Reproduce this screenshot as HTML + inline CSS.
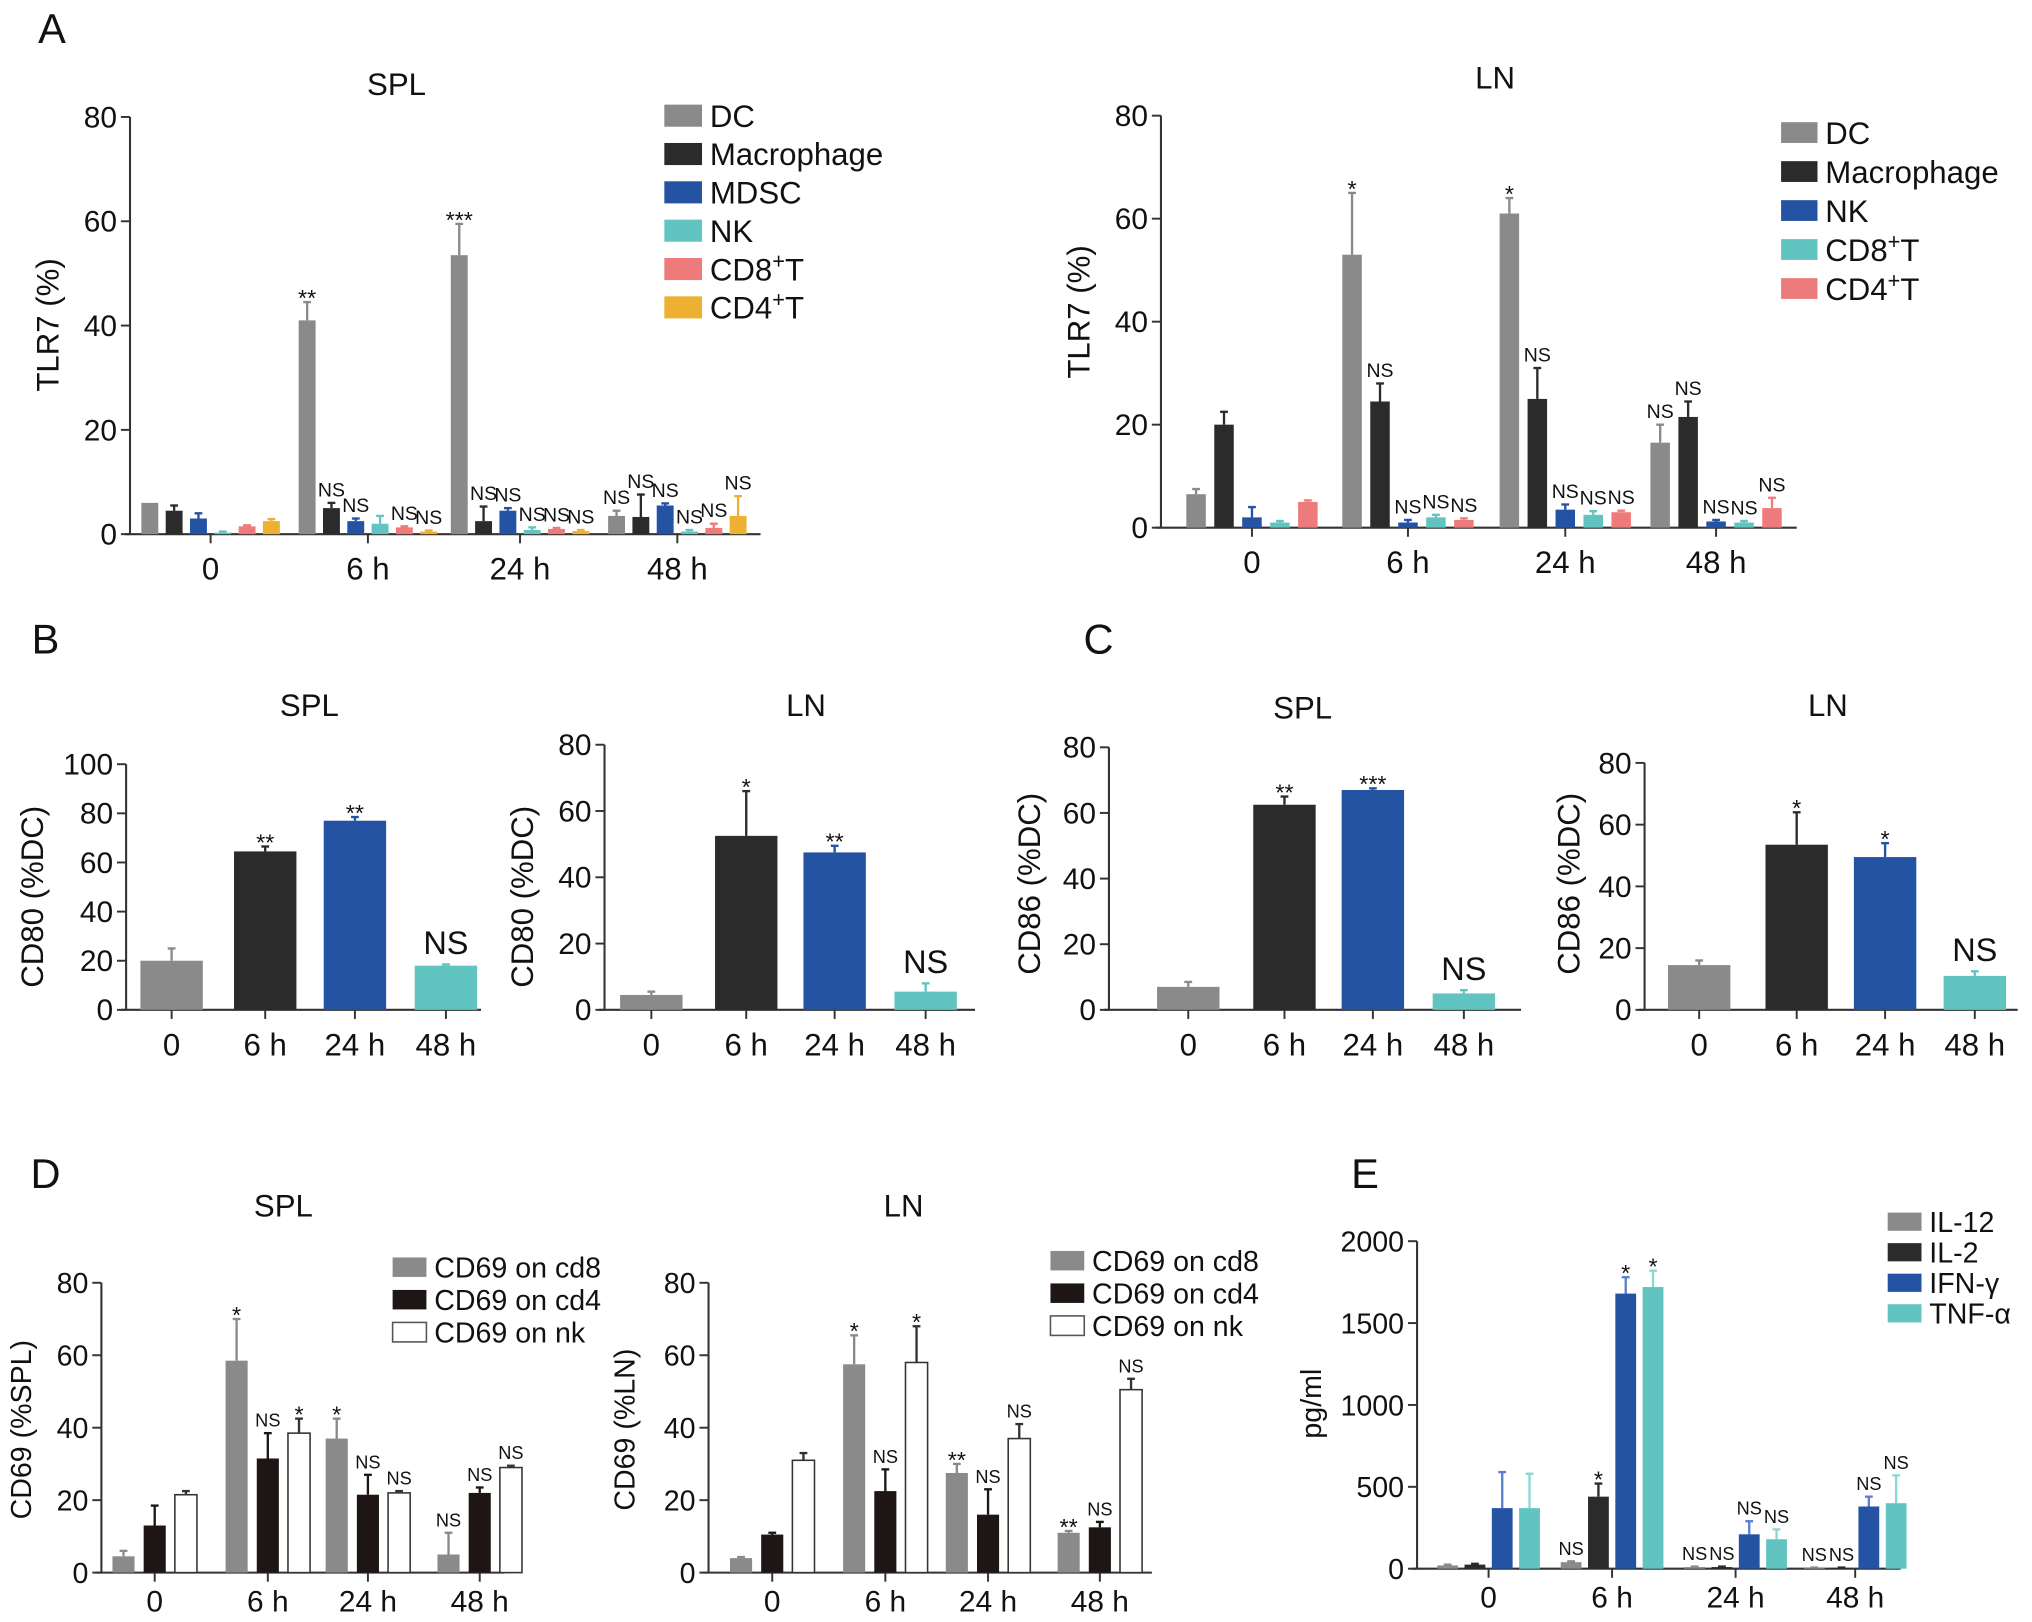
<!DOCTYPE html>
<html><head><meta charset="utf-8"><style>
html,body{margin:0;padding:0;background:#fff;}
svg{display:block;font-family:"Liberation Sans",sans-serif;}
</style></head><body>
<svg id="fig" width="2032" height="1622" viewBox="0 0 1563 1248" preserveAspectRatio="none"></svg>
<script>
// ---------- DATA ----------
const groupsT = ["0","6 h","24 h","48 h"];
// A SPL
const aSplSeries = ["DC","Macrophage","MDSC","NK","CD8+T","CD4+T"];
const aSplVals = [[6,4.5,3,0.3,1.5,2.5],[41,5,2.5,2,1.3,0.5],[53.5,2.5,4.5,0.8,1,0.6],[3.5,3.3,5.5,0.5,1.2,3.5]];
const aSplErr = [[0,1,1,0.2,0.2,0.4],[3.5,1,0.5,1.5,0.2,0.2],[6,2.8,0.5,0.5,0.2,0.2],[1,4.3,0.4,0.3,0.8,3.8]];
const aSplAnn = [["","","","","",""],["**","NS","NS","","NS","NS"],["***","NS","NS","NS","NS","NS"],["NS","NS","NS","NS","NS","NS"]];
const aSplTicks = [0,20,40,60,80];
// A LN
const aLnSeries = ["DC","Macrophage","NK","CD8+T","CD4+T"];
const aLnVals = [[6.5,20,2,1,5],[53,24.5,1,2,1.5],[61,25,3.5,2.5,3],[16.5,21.5,1.2,1,3.8]];
const aLnErr = [[1,2.5,2,0.3,0.3],[12,3.5,0.5,0.5,0.3],[3,6,1,0.7,0.3],[3.5,3,0.3,0.3,2]];
const aLnAnn = [["","","","",""],["*","NS","NS","NS","NS"],["*","NS","NS","NS","NS"],["NS","NS","NS","NS","NS"]];
const aLnTicks = [0,20,40,60,80];
// B / C
const bSplVals = [20,64.5,77,18], bSplErr=[5,2,1.5,0.5], bSplAnn=["","**","**","NS"], bSplTicks=[0,20,40,60,80,100];
const bLnVals = [4.5,52.5,47.5,5.5], bLnErr=[1,13.5,2,2.5], bLnAnn=["","*","**","NS"], bLnTicks=[0,20,40,60,80];
const cSplVals = [7,62.5,67,5], cSplErr=[1.5,2.5,0.5,1], cSplAnn=["","**","***","NS"], cSplTicks=[0,20,40,60,80];
const cLnVals = [14.5,53.5,49.5,11], cLnErr=[1.5,10.5,4.5,1.5], cLnAnn=["","*","*","NS"], cLnTicks=[0,20,40,60,80];
// D
const dSeries = ["CD69 on cd8","CD69 on cd4","CD69 on nk"];
const dSplVals = [[4.5,13,21.5],[58.5,31.5,38.5],[37,21.5,22],[5,22,29]];
const dSplErr = [[1.5,5.5,1],[11.5,7,4],[5.5,5.5,0.5],[6,1.5,0.5]];
const dSplAnn = [["","",""],["*","NS","*"],["*","NS","NS"],["NS","NS","NS"]];
const dLnVals = [[4,10.5,31],[57.5,22.5,58],[27.5,16,37],[11,12.5,50.5]];
const dLnErr = [[0.3,0.5,2],[8,6,10],[2.5,7,4],[0.5,1.5,3]];
const dLnAnn = [["","",""],["*","NS","*"],["**","NS","NS"],["**","NS","NS"]];
const dTicks = [0,20,40,60,80];
// E
const eSeries = ["IL-12","IL-2","IFN-γ","TNF-α"];
const eVals = [[20,25,370,370],[40,440,1680,1720],[10,10,210,180],[5,5,380,400]];
const eErr = [[5,5,220,210],[5,80,100,100],[3,3,80,60],[2,2,60,170]];
const eAnn = [["","","",""],["NS","*","*","*"],["NS","NS","NS","NS"],["NS","NS","NS","NS"]];
const eTicks = [0,500,1000,1500,2000];

// ---------- DRAW ----------
const NS="http://www.w3.org/2000/svg";
const svg=document.getElementById('fig');
function el(tag,attrs,parent,txt){const e=document.createElementNS(NS,tag);for(const k in attrs)e.setAttribute(k,attrs[k]);if(txt!==undefined)e.textContent=txt;(parent||svg).appendChild(e);return e;}
function txt(x,y,s,size,parent,anchor,name){const t=el('text',{x:x,y:y,'font-size':size,'text-anchor':anchor||'middle',fill:'#111'},parent,s);

return t;}

const GRAY='#8a8a8a',BLACK='#2b2b2b',BLUE='#2453a3',TEAL='#62c4c0',PINK='#ee7b7b',GOLD='#eeb030';

function chart(c){
  const g=el('g',{});
  
  
  const ymax=c.ticks[c.ticks.length-1];
  const Y=v=>c.y0-(v/ymax)*(c.y0-c.yTop);
  const ya=el('line',{x1:c.x0,y1:c.yTop,x2:c.x0,y2:c.y0,stroke:'#333','stroke-width':1.6},g);
  
  const xa=el('line',{x1:c.x0-4,y1:c.y0,x2:c.xEnd,y2:c.y0,stroke:'#333','stroke-width':1.6},g);
  
  c.ticks.forEach(t=>{const yy=Y(t);el('line',{x1:c.x0-7,y1:yy,x2:c.x0,y2:yy,stroke:'#333','stroke-width':1.5},g);
    txt(c.x0-10,yy+8,String(t),c.tfs||23,g,'end','y-tick-label');});
  c.vals.forEach((gv,gi)=>{
    const arr=Array.isArray(gv)?gv:[gv];
    const errs=Array.isArray(c.err[gi])?c.err[gi]:[c.err[gi]];
    const anns=Array.isArray(c.ann[gi])?c.ann[gi]:[c.ann[gi]];
    const gc=c.gx[gi];
    el('line',{x1:gc,y1:c.y0,x2:gc,y2:c.y0+7,stroke:'#333','stroke-width':1.5},g);
    txt(gc,c.y0+(c.xoff||35),groupsT[gi],c.xfs||24,g,'middle','x-tick-label');
    const n=arr.length;
    arr.forEach((v,si)=>{
      const cx=n===1?gc:gc+(si-(n-1)/2)*c.sp;
      const col=c.cols[n===1?gi:si];
      const yt=Y(v), ye=Y(v+errs[si]);
      const white=col==='#fff';
      const ec=white?'#333':(c.errCol?c.errCol[n===1?gi:si]:col);
      if(errs[si]>0){el('line',{x1:cx,y1:yt,x2:cx,y2:ye,stroke:ec,'stroke-width':1.8},g);
        el('line',{x1:cx-3,y1:ye,x2:cx+3,y2:ye,stroke:ec,'stroke-width':1.8},g);}
      const r=el('rect',{x:cx-c.bw/2,y:yt,width:c.bw,height:Math.max(c.y0-yt,0.5),fill:col,stroke:white?'#333':'none','stroke-width':1.2},g);
      
      
      const a=anns[si];
      if(a){const big=(n===1&&a==='NS');txt(cx,(big?ye-8:ye-5)+(a[0]==='*'?8:0),a,big?25:(a[0]==='*'?c.sfs||18:c.nfs||15),g,'middle','significance-label');}
    });
  });
  if(c.title) txt(c.title[0],c.title[1],c.title[2],24,g,'middle','chart-title');
  if(c.ylab){const t=txt(0,0,c.ylab[2],c.ylfs||24,g,'middle','y-axis-title');t.setAttribute('transform',`translate(${c.ylab[0]},${c.ylab[1]}) rotate(-90)`);}
  if(c.legend){c.legend.items.forEach((s,i)=>{const L=c.legend;const yy=L.y+i*L.dy;
    const col=c.cols[i];const sq=el('rect',{x:L.x,y:yy-L.h/2,width:L.w,height:L.h,fill:col,stroke:col==='#fff'?'#555':'none','stroke-width':1.2},g);
    
    const t=txt(L.x+L.w+6,yy+L.fs*0.36,'',L.fs,g,'start','legend-entry');
    const m=s.match(/^(CD\d)\+(T)$/);
    if(m){t.appendChild(document.createTextNode(m[1]));const sp=el('tspan',{dy:-9,'font-size':L.fs*0.7},t,'+');el('tspan',{dy:9},t,m[2]);}
    else t.textContent=s;});}
}

[['A',40,33],['B',35,503],['C',845,503],['D',35,914],['E',1050,914]].forEach(p=>txt(p[1],p[2],p[0],32,null,'middle','panel-label-'+p[0]));

chart({name:'chart-a-spl',x0:100,y0:411,yTop:90,xEnd:585,ticks:aSplTicks,vals:aSplVals,err:aSplErr,ann:aSplAnn,
  gx:[162,283,400,521],sp:18.7,bw:13,cols:[GRAY,BLACK,BLUE,TEAL,PINK,GOLD],
  title:[305,73,'SPL'],ylab:[45,250,'TLR7 (%)'],legend:{items:aSplSeries,x:511,y:89,dy:29.5,w:29,h:17,fs:24}});
chart({name:'chart-a-ln',x0:893,y0:406,yTop:89,xEnd:1382,ticks:aLnTicks,vals:aLnVals,err:aLnErr,ann:aLnAnn,
  gx:[963,1083,1204,1320],sp:21.5,bw:15,cols:[GRAY,BLACK,BLUE,TEAL,PINK],
  title:[1150,68,'LN'],ylab:[838,240,'TLR7 (%)'],legend:{items:aLnSeries,x:1370,y:102,dy:30,w:28,h:16,fs:24}});
const C4=[GRAY,BLACK,BLUE,TEAL];
chart({name:'chart-b-spl',x0:97,y0:777,yTop:588,xEnd:370,ticks:bSplTicks,vals:bSplVals,err:bSplErr,ann:bSplAnn,
  gx:[132,204,273,343],sp:0,bw:48,cols:C4,title:[238,551,'SPL'],ylab:[33,690,'CD80 (%DC)']});
chart({name:'chart-b-ln',x0:465,y0:777,yTop:573,xEnd:750,ticks:bLnTicks,vals:bLnVals,err:bLnErr,ann:bLnAnn,
  gx:[501,574,642,712],sp:0,bw:48,cols:C4,title:[620,551,'LN'],ylab:[410,690,'CD80 (%DC)']});
chart({name:'chart-c-spl',x0:853,y0:777,yTop:575,xEnd:1170,ticks:cSplTicks,vals:cSplVals,err:cSplErr,ann:cSplAnn,
  gx:[914,988,1056,1126],sp:0,bw:48,cols:C4,title:[1002,553,'SPL'],ylab:[800,680,'CD86 (%DC)']});
chart({name:'chart-c-ln',x0:1265,y0:777,yTop:587,xEnd:1552,ticks:cLnTicks,vals:cLnVals,err:cLnErr,ann:cLnAnn,
  gx:[1307,1382,1450,1519],sp:0,bw:48,cols:C4,title:[1406,551,'LN'],ylab:[1215,680,'CD86 (%DC)']});
const D3=[GRAY,'#1e1515','#fff'];
chart({name:'chart-d-spl',x0:78,y0:1210,yTop:987,xEnd:388,ticks:dTicks,vals:dSplVals,err:dSplErr,ann:dSplAnn,
  gx:[119,206,283,369],sp:24,bw:17,cols:D3,tfs:22,xfs:23,nfs:14,xoff:30,
  title:[218,936,'SPL'],ylab:[24,1100,'CD69 (%SPL)'],ylfs:22,legend:{items:dSeries,x:302,y:975,dy:25,w:26,h:15,fs:22}});
chart({name:'chart-d-ln',x0:545,y0:1210,yTop:987,xEnd:886,ticks:dTicks,vals:dLnVals,err:dLnErr,ann:dLnAnn,
  gx:[594,681,760,846],sp:24,bw:17,cols:D3,tfs:22,xfs:23,nfs:14,xoff:30,
  title:[695,936,'LN'],ylab:[488,1100,'CD69 (%LN)'],ylfs:22,legend:{items:dSeries,x:808,y:970,dy:25,w:26,h:15,fs:22}});
chart({name:'chart-e',x0:1090,y0:1207,yTop:955,xEnd:1462,ticks:eTicks,vals:eVals,err:eErr,ann:eAnn,
  gx:[1145,1240,1335,1427],sp:21,bw:16,cols:C4,errCol:[GRAY,BLACK,'#5a7fd0','#8ad8d4'],tfs:22,xfs:23,nfs:14,xoff:30,
  ylab:[1016,1080,'pg/ml'],ylfs:22,legend:{items:eSeries,x:1452,y:940,dy:23.5,w:26,h:14,fs:22}});
</script>
</body></html>
